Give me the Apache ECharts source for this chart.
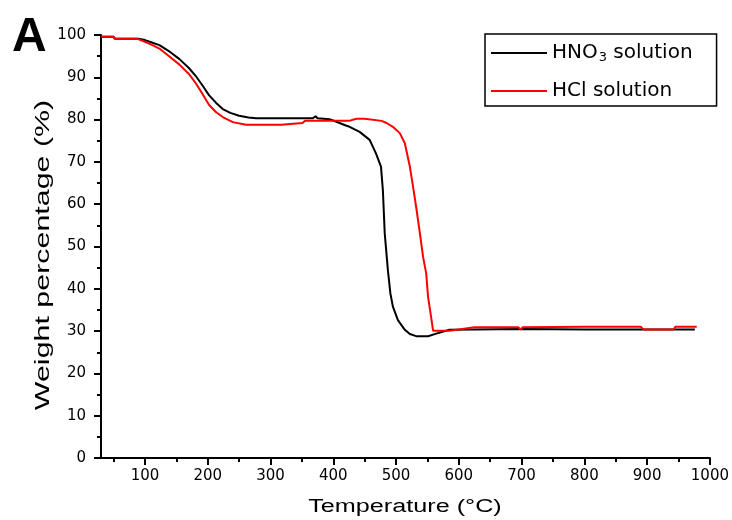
<!DOCTYPE html>
<html>
<head>
<meta charset="utf-8">
<script src="https://cdn.jsdelivr.net/npm/echarts@6/dist/echarts.min.js"></script>
<style>html,body{margin:0;padding:0;background:#fff}#chart{width:732px;height:520px}</style>
</head>
<body>
<div id="chart"></div>
<script>
// Temperature (°C) and weight percentage (%)
var hno3Temp = [30,50,52,90,100,110,123,140,155,170,181,192,202,213,224,236,250,265,277,300,340,367,372,375,394,405,420,426,442,458,468,476,479,482,487,491,495,503,514,522,532,551,564,585,625,700,800,900,976];
var hno3Weight = [99.6,99.6,99.1,99.1,98.8,98.3,97.6,96.0,94.3,92.2,90.3,88.0,85.8,84.0,82.5,81.6,80.9,80.5,80.3,80.3,80.3,80.3,80.8,80.3,80.1,79.5,78.6,78.3,77.1,75.2,72.0,68.9,63.4,53.1,44.4,38.9,35.8,32.6,30.3,29.3,28.8,28.8,29.4,30.3,30.4,30.5,30.4,30.4,30.4];
var hclTemp = [30,50,52,88,100,112,123,140,155,170,181,192,202,213,224,240,261,317,320,351,355,425,437,450,453,477,485,495,506,514,522,527,532,538,543,548,551,555,559,585,600,625,695,698,702,800,890,894,942,945,979];
var hclWeight = [99.6,99.6,99.1,99.1,98.4,97.6,96.8,94.8,93.0,90.8,88.6,86.0,83.5,81.8,80.6,79.4,78.8,78.8,79.2,79.2,79.7,79.7,80.2,80.2,79.8,79.7,79.2,78.3,76.8,74.4,68.9,64.2,59.4,53.1,47.6,43.7,38.1,34.2,30.1,30.1,30.4,30.9,30.9,30.4,30.9,31.0,31.0,30.4,30.4,31.0,31.0];
var seriesNames = ['HNO3 solution', 'HCl solution'];
var xTicks = [100,200,300,400,500,600,700,800,900,1000];
var xMinorTicks = [50,150,250,350,450,550,650,750,850,950];
var yTicks = [0,10,20,30,40,50,60,70,80,90,100];
var panelLabel = 'A';
var xTitle = 'Temperature (°C)';
var yTitle = 'Weight percentage (%)';

function pairs(a, b) { return a.map(function (v, i) { return [v, b[i]]; }); }
function plain(v) { return String(v); }

var chart = echarts.init(document.getElementById('chart'), null, {renderer: 'canvas'});
var tickFont = {fontFamily: 'DejaVu Sans', fontSize: 15, color: '#000'};
chart.setOption({
  animation: false,
  backgroundColor: '#fff',
  grid: {left: 101, right: 22, top: 35, bottom: 62, containLabel: false},
  xAxis: [{
    type: 'value', min: 30, max: 1000, position: 'bottom',
    axisLine: {lineStyle: {color: '#000', width: 2}},
    axisTick: {show: true, inside: false, length: 7, lineStyle: {color: '#000', width: 2}, customValues: xTicks},
    axisLabel: Object.assign({margin: 11, customValues: xTicks, formatter: plain}, tickFont),
    splitLine: {show: false}
  }, {
    type: 'value', min: 30, max: 1000, position: 'bottom',
    axisLine: {show: false},
    axisTick: {show: true, inside: false, length: 4, lineStyle: {color: '#000', width: 2}, customValues: xMinorTicks},
    axisLabel: {show: false},
    splitLine: {show: false}
  }],
  yAxis: {
    type: 'value', min: 0, max: 100, interval: 10,
    axisLine: {show: true, lineStyle: {color: '#000', width: 2}},
    axisTick: {show: true, inside: false, length: 7, lineStyle: {color: '#000', width: 2}, customValues: yTicks},
    minorTick: {show: true, splitNumber: 2, length: 4, lineStyle: {color: '#000', width: 2}},
    axisLabel: Object.assign({margin: 15, customValues: yTicks, formatter: plain}, tickFont),
    splitLine: {show: false}
  },
  legend: {
    orient: 'vertical', left: 485, top: 34,
    padding: [7, 24, 3, 6],
    itemGap: 14, itemWidth: 56, itemHeight: 14,
    borderColor: '#000', borderWidth: 1.5,
    icon: 'path://M0,6 L56,6 L56,8 L0,8 Z',
    data: seriesNames,
    formatter: function (n) { return n === 'HNO3 solution' ? 'HNO{sub|3} solution' : n; },
    textStyle: {
      fontFamily: 'DejaVu Sans', fontSize: 20, color: '#000', lineHeight: 24,
      rich: {sub: {fontFamily: 'DejaVu Sans', fontSize: 13, color: '#000', padding: [10, 0, 0, 1]}}
    }
  },
  graphic: [
    {type: 'text', left: 12, top: 14, style: {text: panelLabel, font: 'bold 48px "Liberation Sans"', fill: '#000'}},
    {type: 'text', x: 405, y: 507, scaleX: 1.4, style: {text: xTitle, font: '18px "Liberation Sans"', fill: '#000', textAlign: 'center', textVerticalAlign: 'middle'}},
    {type: 'text', x: 43, y: 255, rotation: Math.PI / 2, scaleX: 1.52, style: {text: yTitle, font: '20px "Liberation Sans"', fill: '#000', textAlign: 'center', textVerticalAlign: 'middle'}}
  ],
  series: [{
    name: seriesNames[0], type: 'line', xAxisIndex: 0, data: pairs(hno3Temp, hno3Weight),
    symbol: 'none', lineStyle: {color: '#000', width: 2}, itemStyle: {color: '#000'}
  }, {
    name: seriesNames[1], type: 'line', xAxisIndex: 0, data: pairs(hclTemp, hclWeight),
    symbol: 'none', lineStyle: {color: '#ff0000', width: 2}, itemStyle: {color: '#ff0000'}
  }]
});
</script>
</body>
</html>
